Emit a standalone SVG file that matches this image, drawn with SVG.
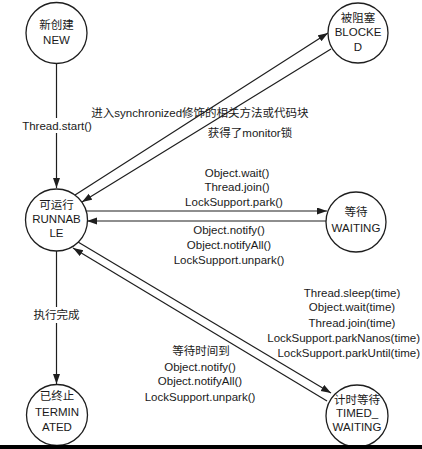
<svg xmlns="http://www.w3.org/2000/svg" width="422" height="449" viewBox="0 0 422 449">
<style>
.n{fill:#fff;stroke:#1e1e1e;stroke-width:1.3}
.t{font-family:"Liberation Sans","Noto Sans CJK SC",sans-serif;font-size:11.5px;fill:#1a1a1a;text-anchor:middle}
.e{text-anchor:end}
.l{fill:none;stroke:#1e1e1e;stroke-width:1.2}
.bg{fill:#fff}
</style>
<defs>
<marker id="ah" markerUnits="userSpaceOnUse" markerWidth="11" markerHeight="8" refX="10" refY="3.5" orient="auto">
<path d="M0,0 L10,3.5 L0,7 z" fill="#1e1e1e"/>
</marker>
</defs>
<rect width="422" height="449" fill="#fff"/>
<g id="connectors">
<line class="l" x1="56.5" y1="63" x2="56.5" y2="188" marker-end="url(#ah)"/>
<line class="l" x1="56.5" y1="251" x2="56.5" y2="384" marker-end="url(#ah)"/>
<line class="l" x1="75" y1="195" x2="328" y2="33" marker-end="url(#ah)"/>
<line class="l" x1="331" y1="49" x2="82" y2="202" marker-end="url(#ah)"/>
<line class="l" x1="86" y1="211" x2="327" y2="211" marker-end="url(#ah)"/>
<line class="l" x1="326" y1="221" x2="87" y2="221" marker-end="url(#ah)"/>
<line class="l" x1="78" y1="242" x2="331" y2="393" marker-end="url(#ah)"/>
<line class="l" x1="327" y1="401" x2="73" y2="248" marker-end="url(#ah)"/>
<rect class="bg" x="20" y="118" width="74" height="15"/>
<text class="t" x="57" y="130">Thread.start()</text>
<rect class="bg" x="32" y="307" width="50" height="16"/>
<text class="t" x="56.5" y="319">执行完成</text>
<text class="t" x="200" y="117" font-size="12.3">进入synchronized修饰的相关方法或代码块</text>
<text class="t" x="250" y="137" font-size="12.3">获得了monitor锁</text>
<text class="t" x="237" y="177">Object.wait()</text>
<text class="t" x="237" y="191">Thread.join()</text>
<text class="t" x="234" y="206">LockSupport.park()</text>
<text class="t" x="229" y="234">Object.notify()</text>
<text class="t" x="229" y="249">Object.notifyAll()</text>
<text class="t" x="229" y="264">LockSupport.unpark()</text>
<text class="t" x="352" y="297">Thread.sleep(time)</text>
<text class="t" x="352" y="311">Object.wait(time)</text>
<text class="t" x="352" y="327">Thread.join(time)</text>
<text class="t e" x="420" y="342" font-size="11.1">LockSupport.parkNanos(time)</text>
<text class="t e" x="420" y="357" font-size="11.4">LockSupport.parkUntil(time)</text>
<text class="t" x="201" y="355">等待时间到</text>
<text class="t" x="200" y="371">Object.notify()</text>
<text class="t" x="200" y="385">Object.notifyAll()</text>
<text class="t" x="200" y="401">LockSupport.unpark()</text>
</g>
<g id="NEW">
<circle class="n" cx="56.5" cy="33" r="30.5"/>
<text class="t" x="56.5" y="29">新创建</text>
<text class="t" x="56.5" y="44">NEW</text>
</g>
<g id="BLOCKED">
<circle class="n" cx="358" cy="33" r="30"/>
<text class="t" x="358" y="22">被阻塞</text>
<text class="t" x="358" y="36">BLOCKE</text>
<text class="t" x="358" y="51">D</text>
</g>
<g id="RUNNABLE">
<circle class="n" cx="56.5" cy="220" r="31"/>
<text class="t" x="56.5" y="209">可运行</text>
<text class="t" x="56.5" y="223">RUNNAB</text>
<text class="t" x="56.5" y="237">LE</text>
</g>
<g id="WAITING">
<circle class="n" cx="356" cy="222" r="30"/>
<text class="t" x="356" y="216">等待</text>
<text class="t" x="356" y="232">WAITING</text>
</g>
<g id="TERMINATED">
<circle class="n" cx="57" cy="415" r="30.5"/>
<text class="t" x="57" y="400">已终止</text>
<text class="t" x="57" y="415.5">TERMIN</text>
<text class="t" x="57" y="431">ATED</text>
</g>
<g id="TIMED_WAITING">
<circle class="n" cx="357" cy="416" r="31"/>
<text class="t" x="357" y="404">计时等待</text>
<text class="t" x="357" y="417">TIMED_</text>
<text class="t" x="357" y="431">WAITING</text>
</g>
<rect x="0" y="445" width="422" height="4" fill="#000"/>
</svg>
